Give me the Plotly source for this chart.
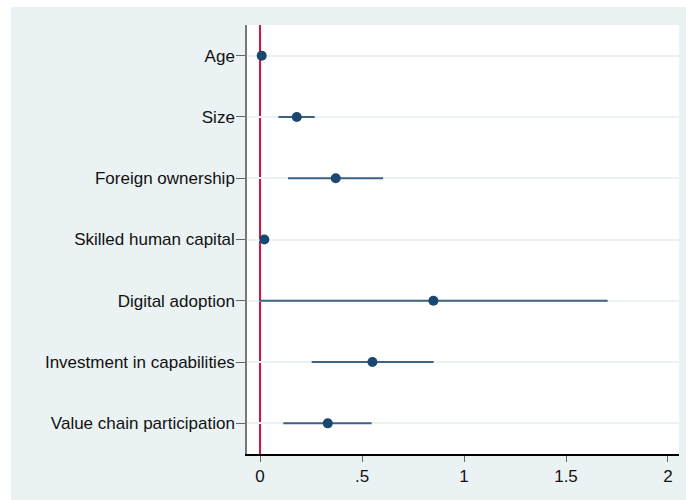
import plotly.graph_objects as go

# Coefficient estimates with 95% confidence intervals
variables = [
    "Age",
    "Size",
    "Foreign ownership",
    "Skilled human capital",
    "Digital adoption",
    "Investment in capabilities",
    "Value chain participation",
]
estimates = [0.008, 0.180, 0.371, 0.021, 0.850, 0.551, 0.332]
ci_low = [0.002, 0.090, 0.137, 0.012, -0.005, 0.253, 0.114]
ci_high = [0.014, 0.268, 0.603, 0.030, 1.704, 0.851, 0.547]

x_tickvals = [0, 0.5, 1, 1.5, 2]
x_ticktext = ["0", ".5", "1", "1.5", "2"]

navy = "#1a476f"
ci_color = "#3e6287"
outer_bg = "#eaf2f3"

fig = go.Figure()

fig.add_trace(go.Scatter(
    x=estimates,
    y=variables,
    mode="markers",
    marker=dict(color=navy, size=10, line=dict(width=0)),
    error_x=dict(
        type="data",
        symmetric=False,
        array=[h - e for h, e in zip(ci_high, estimates)],
        arrayminus=[e - l for e, l in zip(estimates, ci_low)],
        color=ci_color,
        thickness=2,
        width=0,
    ),
    showlegend=False,
    hoverinfo="skip",
))

# Zero reference line
fig.add_shape(
    type="line", xref="x", yref="paper",
    x0=0, x1=0, y0=0, y1=1,
    line=dict(color="#d0103a", width=2),
    layer="between",
)

# White strips framing the shaded graph region
plot_w, plot_h = 432, 429
fig.add_shape(type="rect", xref="paper", yref="paper",
              x0=-247 / plot_w, x1=(11 - 247) / plot_w, y0=-1, y1=2,
              fillcolor="white", line=dict(width=0), layer="below")
fig.add_shape(type="rect", xref="paper", yref="paper",
              x0=-1, x1=2, y0=(454 - 7) / plot_h, y1=454 / plot_h + 0.5,
              fillcolor="white", line=dict(width=0), layer="below")

font = "Liberation Sans, Arial, sans-serif"

fig.update_layout(
    width=686,
    height=500,
    margin=dict(l=247, r=7, t=25, b=46),
    paper_bgcolor=outer_bg,
    plot_bgcolor="white",
    font=dict(family=font, size=17, color="#111111"),
    xaxis=dict(
        range=[-0.064, 2.054],
        tickvals=x_tickvals,
        ticktext=x_ticktext,
        showgrid=False,
        zeroline=False,
        showline=True,
        linecolor="#000000",
        linewidth=1.5,
        ticks="outside",
        ticklen=6,
        tickcolor="#666666",
        tickwidth=1,
        tickfont=dict(size=17),
    ),
    yaxis=dict(
        type="category",
        categoryorder="array",
        categoryarray=variables[::-1],
        range=[-0.5, len(variables) - 0.5],
        showgrid=True,
        gridcolor="#eaf2f3",
        gridwidth=1.5,
        zeroline=False,
        showline=True,
        linecolor="#777777",
        linewidth=1.5,
        ticks="outside",
        ticklen=9,
        tickcolor="#666666",
        tickwidth=1,
        ticklabelstandoff=-2,
        tickfont=dict(size=17),
    ),
)

fig.write_html("out.html")
